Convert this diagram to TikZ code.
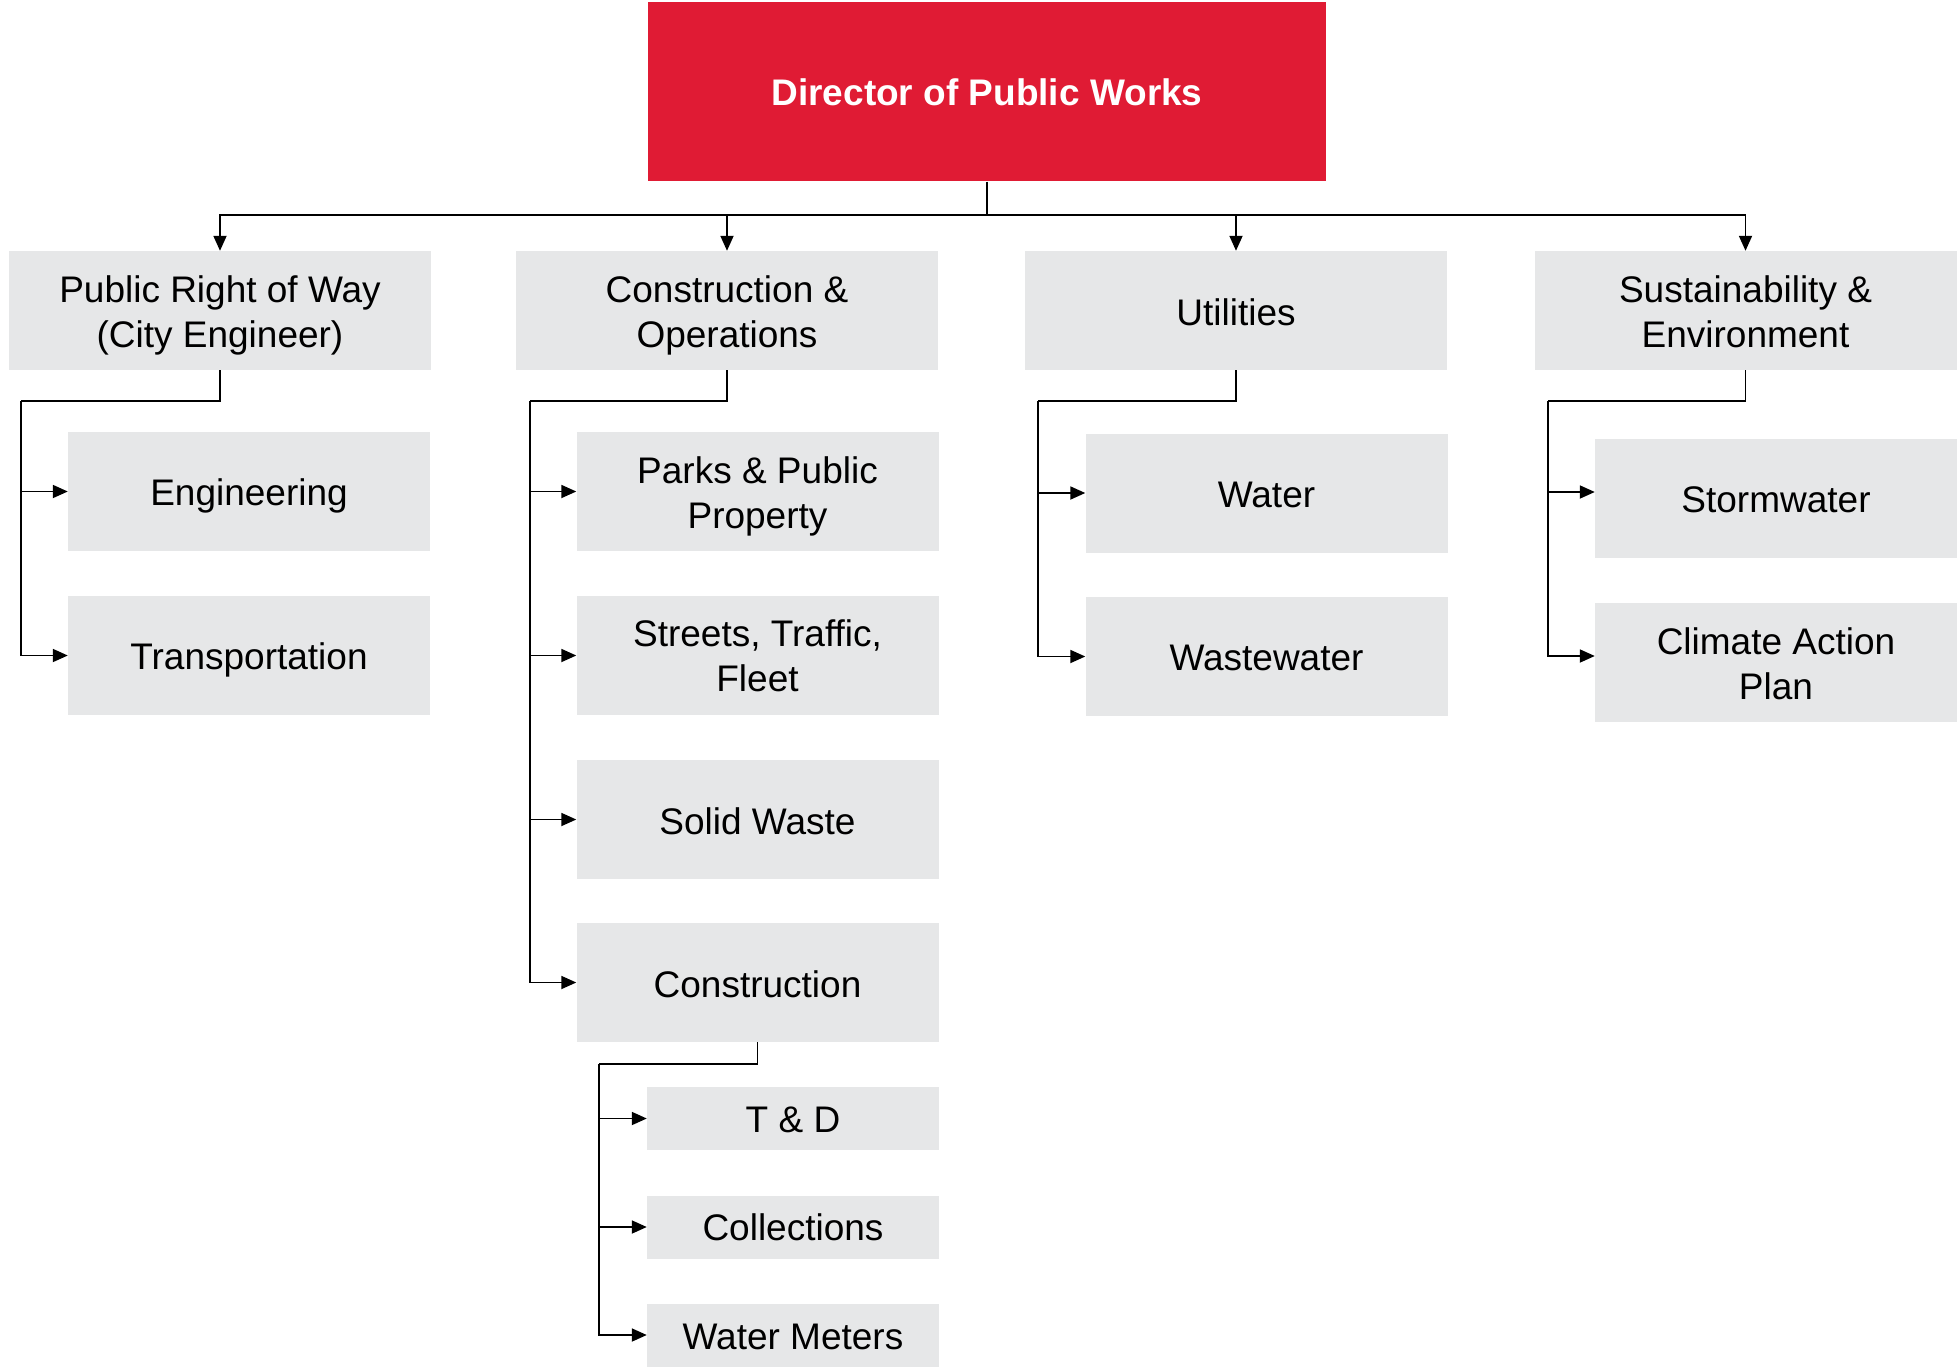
\documentclass[tikz,border=0pt]{standalone}
\usepackage{fontspec}
\setmainfont{Liberation Sans}
\usetikzlibrary{arrows.meta}
\definecolor{dirred}{HTML}{E01B34}
\definecolor{boxgray}{HTML}{E6E7E8}
\begin{document}
\begin{tikzpicture}[x=1pt,y=-1pt,
  box/.style={fill=boxgray, draw=none, inner sep=0pt},
  bigbox/.style={box, minimum width=422pt, minimum height=119pt},
  subbox/.style={box, minimum width=362pt, minimum height=119pt},
  smallbox/.style={box, minimum width=292pt, minimum height=63pt},
  txt/.style={inner sep=0pt, align=center, font=\fontsize{37}{45}\selectfont, text=black},
  one/.style={txt, yshift=-1.5pt},
  two/.style={txt, yshift=-5pt},
  link/.style={draw=black, line width=1.8pt},
  arr/.style={link, -{Triangle[length=15pt,width=13pt]}}]
\useasboundingbox (0,0) rectangle (1959,1367);

\node[fill=dirred, inner sep=0pt, minimum width=678pt, minimum height=179pt,
  text=white, font=\fontsize{37}{45}\selectfont\bfseries] (dir) at (987,92) {Director of Public Works};

\node[bigbox] (prow) at (220,310.5) {};
\node[two] (prowt) at (prow.center) {Public Right of Way\\(City Engineer)};
\node[bigbox] (co) at (727,310.5) {};
\node[two] (cot) at (co.center) {Construction \&\\Operations};
\node[bigbox] (util) at (1236,310.5) {};
\node[one] (utilt) at (util.center) {Utilities};
\node[bigbox] (se) at (1745.5,310.5) {};
\node[txt, yshift=-1.5pt] (set) at (se.center) {Sustainability \&\\Environment};

\node[subbox] (eng) at (249,491.5) {};
\node[txt, yshift=-4pt] (engt) at (eng.center) {Engineering};
\node[subbox] (trans) at (249,655.5) {};
\node[txt, yshift=-4pt] (transt) at (trans.center) {Transportation};

\node[subbox] (parks) at (757.5,491.5) {};
\node[two] (parkst) at (parks.center) {Parks \& Public\\Property};
\node[subbox] (streets) at (757.5,655.5) {};
\node[txt] (streetst) at (streets.center) {Streets, Traffic,\\Fleet};
\node[subbox] (solid) at (757.5,819.5) {};
\node[one] (solidt) at (solid.center) {Solid Waste};
\node[subbox] (constr) at (757.5,982.5) {};
\node[one] (constrt) at (constr.center) {Construction};

\node[smallbox] (td) at (793,1118.5) {};
\node[one] (tdt) at (td.center) {T \& D};
\node[smallbox] (coll) at (793,1227) {};
\node[txt] (collt) at (coll.center) {Collections};
\node[smallbox] (wm) at (793,1335) {};
\node[one] (wmt) at (wm.center) {Water Meters};

\node[subbox] (water) at (1266.5,493) {};
\node[one] (watert) at (water.center) {Water};
\node[subbox] (waste) at (1266.5,656.5) {};
\node[one] (wastet) at (waste.center) {Wastewater};

\node[subbox] (storm) at (1776,498) {};
\node[one] (stormt) at (storm.center) {Stormwater};
\node[subbox] (climate) at (1776,662) {};
\node[txt, yshift=-1.5pt] (climatet) at (climate.center) {Climate Action\\Plan};

% top-level bus
\coordinate (bus) at (987,215);
\draw[link] (dir.south) -- (bus);
\draw[arr] (bus) -| (prow.north);
\draw[arr] (bus) -| (co.north);
\draw[arr] (bus) -| (util.north);
\draw[arr] (bus) -| (se.north);

% Public Right of Way branch
\coordinate (b1) at (21,401);
\draw[link] (prow.south) |- (b1);
\draw[arr] (b1) |- (eng.west);
\draw[arr] (b1) |- (trans.west);

% Construction & Operations branch
\coordinate (b2) at (530,401);
\draw[link] (co.south) |- (b2);
\draw[arr] (b2) |- (parks.west);
\draw[arr] (b2) |- (streets.west);
\draw[arr] (b2) |- (solid.west);
\draw[arr] (b2) |- (constr.west);

% Construction sub-branch
\coordinate (b3) at (599,1064);
\draw[link] (constr.south) |- (b3);
\draw[arr] (b3) |- (td.west);
\draw[arr] (b3) |- (coll.west);
\draw[arr] (b3) |- (wm.west);

% Utilities branch
\coordinate (b4) at (1038,401);
\draw[link] (util.south) |- (b4);
\draw[arr] (b4) |- (water.west);
\draw[arr] (b4) |- (waste.west);

% Sustainability branch
\coordinate (b5) at (1548,401);
\draw[link] (se.south) |- (b5);
\draw[arr] (b5) |- ([yshift=6pt]storm.west);
\draw[arr] (b5) |- ([yshift=6pt]climate.west);
\end{tikzpicture}
\end{document}
